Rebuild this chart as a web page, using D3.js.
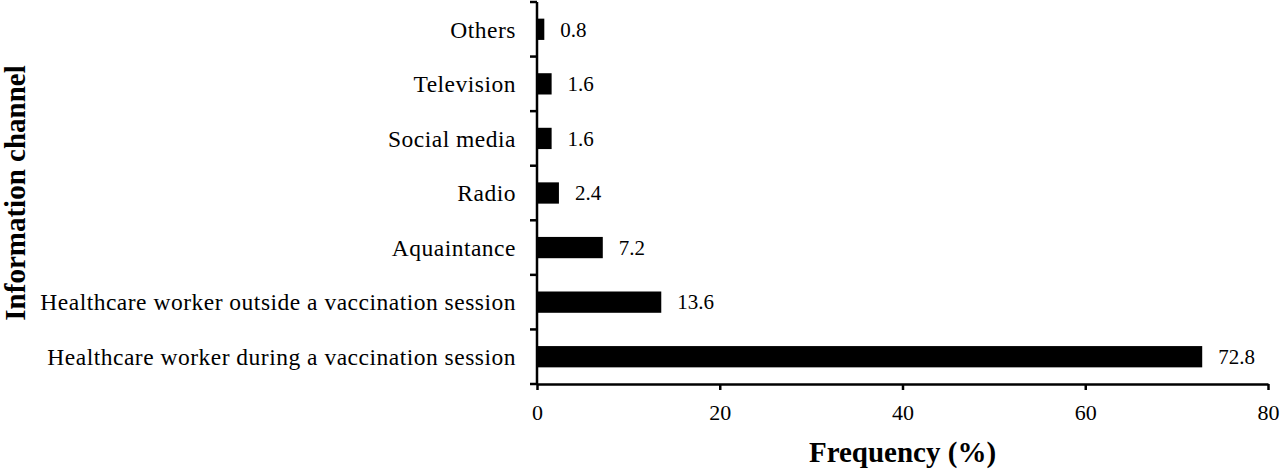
<!DOCTYPE html>
<html>
<head>
<meta charset="utf-8">
<script src="https://cdn.jsdelivr.net/npm/d3@7"></script>
<style>
  body { margin: 0; background: #fff; }
  svg { display: block; }
  text { font-family: "Liberation Serif", "DejaVu Serif", serif; fill: #000; }
</style>
</head>
<body>
<div id="chart"></div>
<script>
// information channel -> share of respondents (%)
const channels = [
  "Others",
  "Television",
  "Social media",
  "Radio",
  "Aquaintance",
  "Healthcare worker outside a vaccination session",
  "Healthcare worker during a vaccination session"
];
const frequencies = [0.8, 1.6, 1.6, 2.4, 7.2, 13.6, 72.8];
const xTicks = [0, 20, 40, 60, 80];

const width = 1280, height = 472;
const margin = { top: 2, right: 12, bottom: 88, left: 537 };

const svg = d3.select("#chart")
  .append("svg")
  .attr("width", width)
  .attr("height", height);

const data = channels.map((c, i) => ({ channel: c, value: frequencies[i] }));

const x = d3.scaleLinear()
  .domain([0, 80])
  .range([margin.left, width - margin.right]);

const y = d3.scaleBand()
  .domain(channels)
  .range([margin.top, height - margin.bottom])
  .paddingInner(0.61)
  .paddingOuter(0.305);

const step = y.step();
const pad = (step - y.bandwidth()) / 2;

// bars
svg.selectAll("rect.bar")
  .data(data)
  .join("rect")
  .attr("class", "bar")
  .attr("x", x(0))
  .attr("y", d => y(d.channel))
  .attr("width", d => x(d.value) - x(0))
  .attr("height", y.bandwidth())
  .attr("fill", "#000");

// value labels
svg.selectAll("text.val")
  .data(data)
  .join("text")
  .attr("class", "val")
  .attr("x", d => x(d.value) + 16)
  .attr("y", d => y(d.channel) + y.bandwidth() / 2)
  .attr("dy", "0.35em")
  .style("font-size", "21px")
  .text(d => d.value.toFixed(1));

// category labels
svg.selectAll("text.cat")
  .data(data)
  .join("text")
  .attr("class", "cat")
  .attr("x", margin.left - 21)
  .attr("y", d => y(d.channel) + y.bandwidth() / 2)
  .attr("dy", "0.35em")
  .attr("text-anchor", "end")
  .style("font-size", "23.5px")
  .style("letter-spacing", "0.5px")
  .text(d => d.channel);

// y axis line with ticks on the category boundaries
const yBase = height - margin.bottom;
svg.append("line")
  .attr("x1", x(0)).attr("x2", x(0))
  .attr("y1", margin.top).attr("y2", yBase)
  .attr("stroke", "#000").attr("stroke-width", 2.5);

const bounds = channels.map(c => y(c) - pad).concat([yBase]);
svg.selectAll("line.ytick")
  .data(bounds)
  .join("line")
  .attr("class", "ytick")
  .attr("x1", x(0) - 7).attr("x2", x(0))
  .attr("y1", d => d).attr("y2", d => d)
  .attr("stroke", "#000").attr("stroke-width", 2.5);

// x axis
const xAxis = svg.append("g")
  .attr("transform", `translate(0,${yBase})`)
  .call(d3.axisBottom(x).tickValues(xTicks).tickSize(6).tickSizeOuter(0).tickPadding(14));
xAxis.select(".domain").attr("stroke-width", 2.5);
xAxis.selectAll(".tick line").attr("stroke-width", 2.5);
xAxis.selectAll(".tick text")
  .style("font-family", "Liberation Serif, serif")
  .style("font-size", "22px");

// axis titles
svg.append("text")
  .attr("x", (x(0) + x(80)) / 2)
  .attr("y", 462)
  .attr("text-anchor", "middle")
  .style("font-size", "29px")
  .style("font-weight", "bold")
  .text("Frequency (%)");

svg.append("text")
  .attr("transform", `translate(25,${(margin.top + yBase) / 2}) rotate(-90)`)
  .attr("text-anchor", "middle")
  .style("font-size", "29px")
  .style("font-weight", "bold")
  .text("Information channel");
</script>
</body>
</html>
